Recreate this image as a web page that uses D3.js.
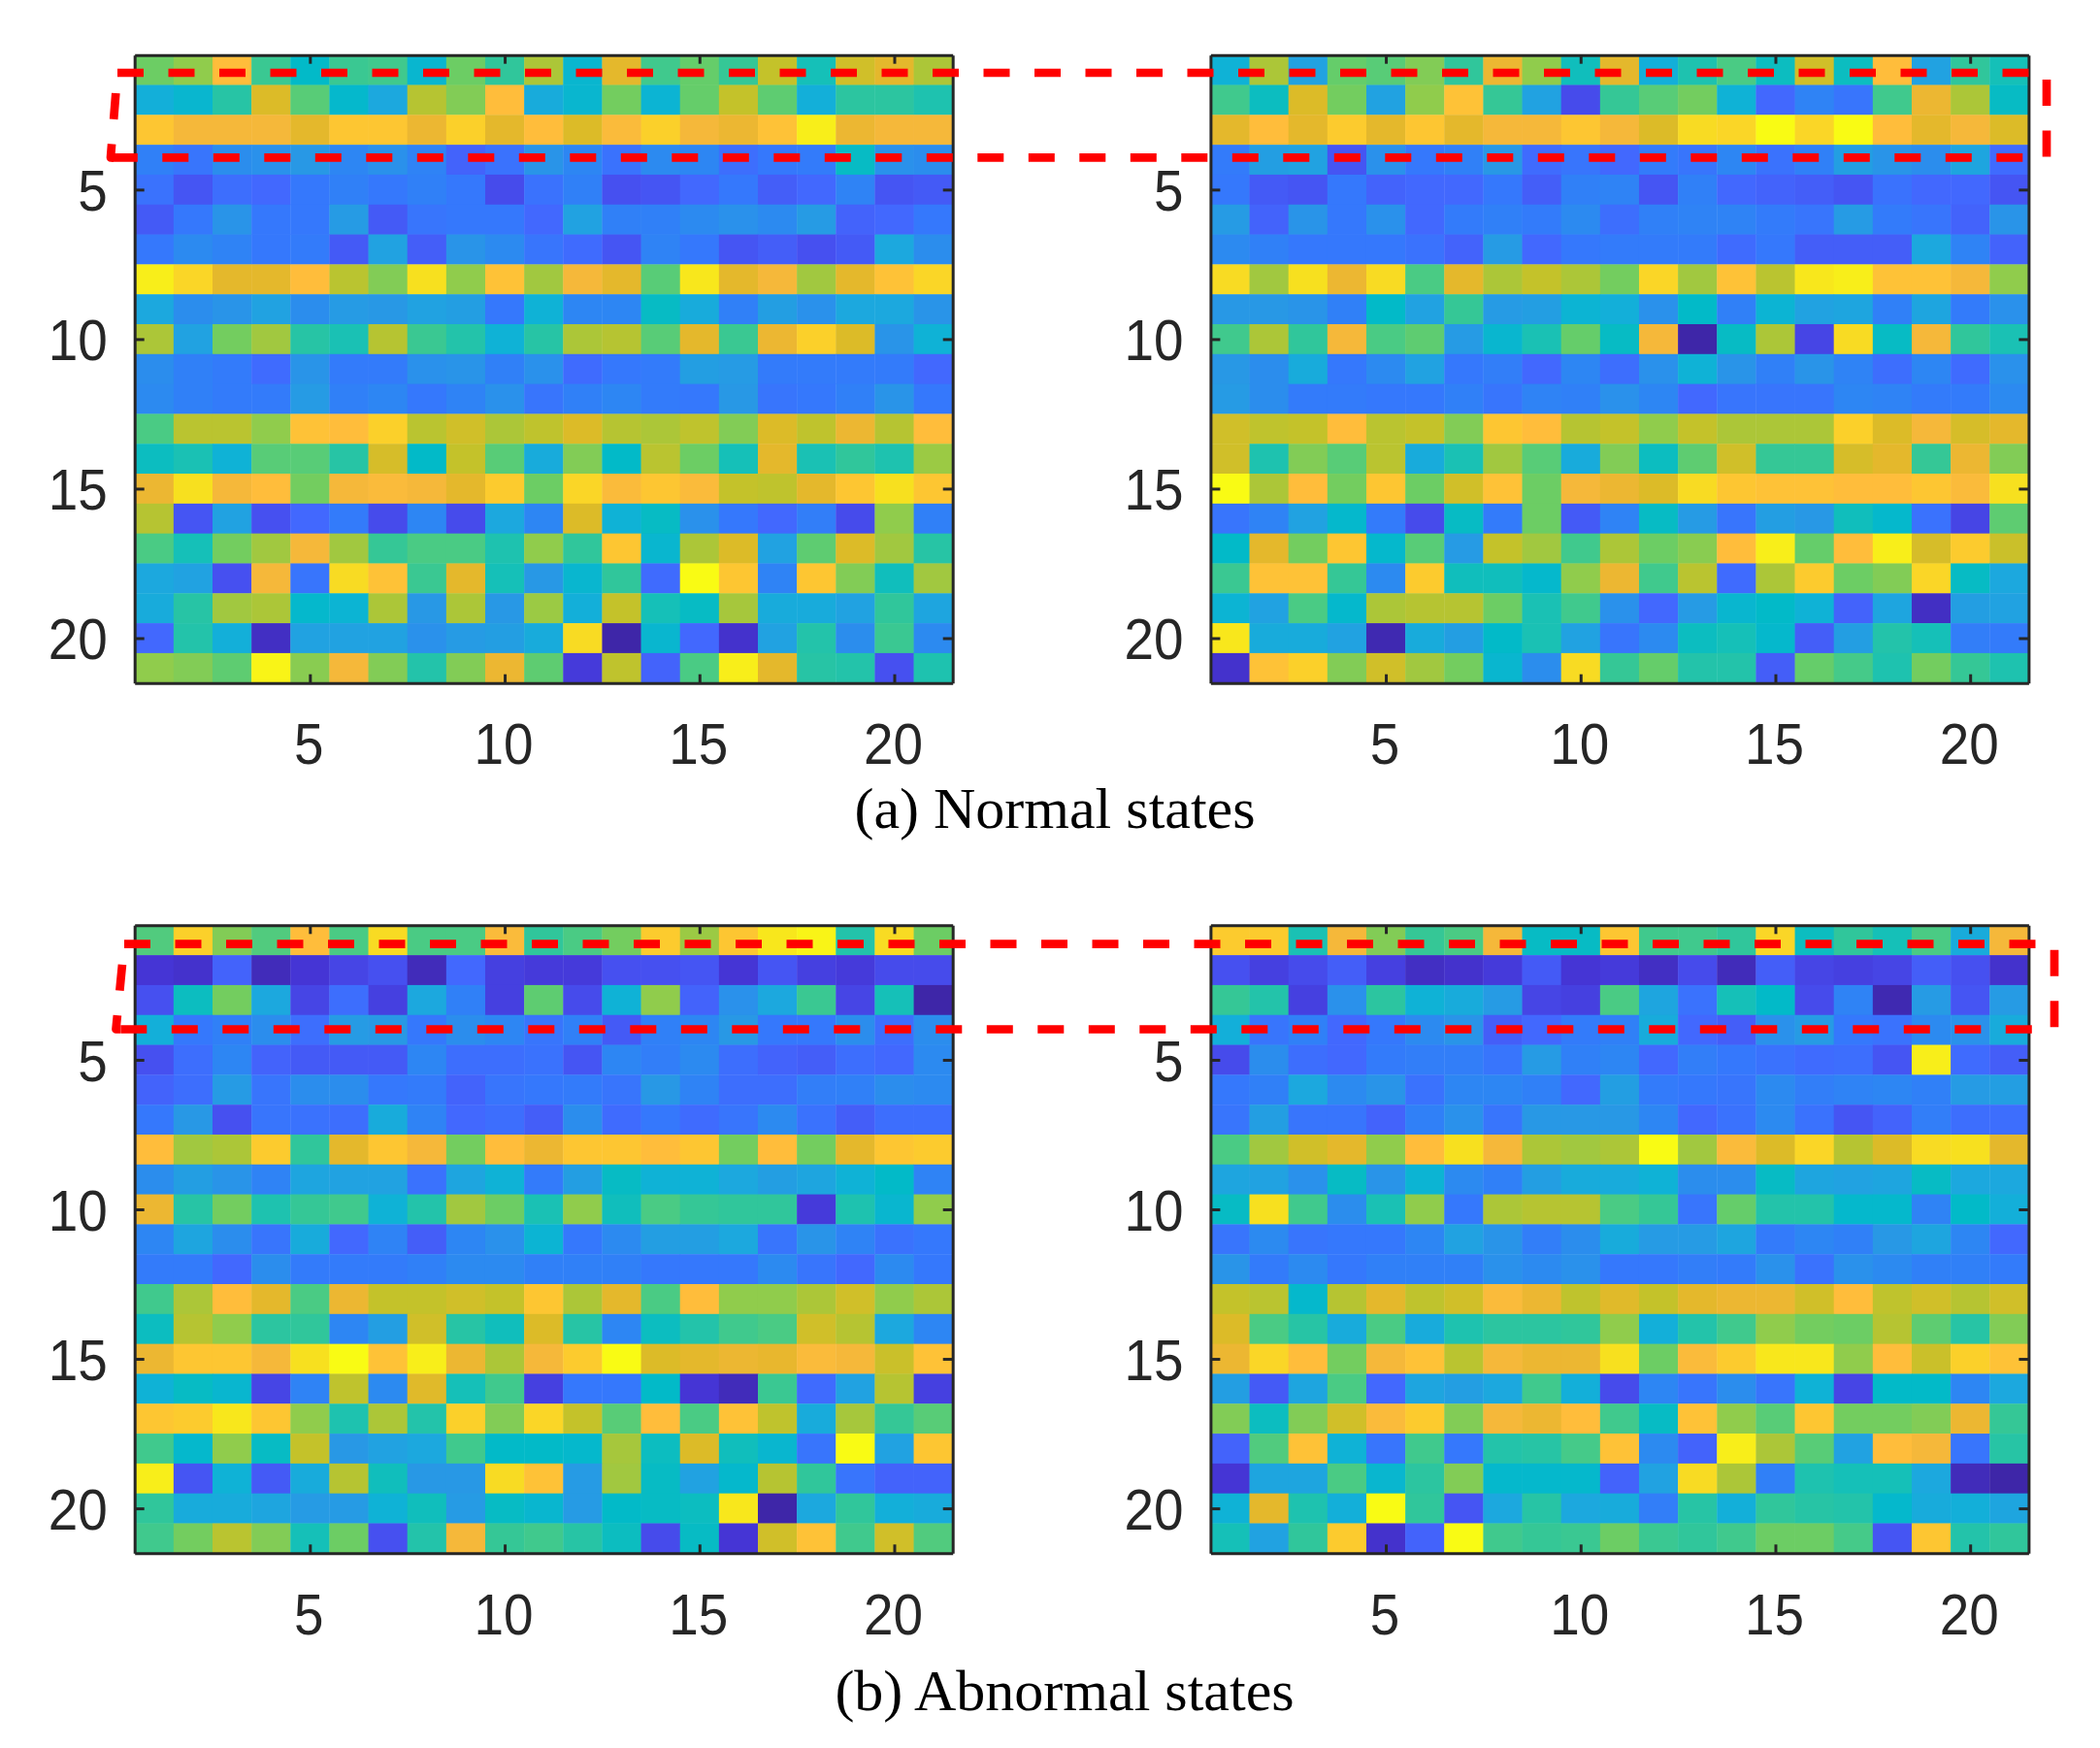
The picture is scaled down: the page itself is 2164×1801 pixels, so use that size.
<!DOCTYPE html>
<html>
<head>
<meta charset="utf-8">
<title>Normal and abnormal states</title>
<script src="https://cdn.jsdelivr.net/npm/d3@7/dist/d3.min.js"></script>
<style>
	html, body { margin: 0; padding: 0; background: #fff; }
	svg { display: block; }
	.axis path, .axis line { stroke: #262626; stroke-width: 3px; }
	.axis text { font-family: "Liberation Sans", Arial, sans-serif; font-size: 59px; fill: #262626; }
	.caption { font-family: "Liberation Serif", "Times New Roman", serif; font-size: 60px; fill: #000; text-anchor: middle; }
	.box { fill: none; stroke: #ff0000; stroke-width: 8.7px; stroke-linejoin: round; }
</style>
</head>
<body>
<svg id="chart" width="2164" height="1801"></svg>
<script>
var categories = d3.range(1, 22);
var tickValues = [5, 10, 15, 20];
var captions = ['(a) Normal states', '(b) Abnormal states'];

var colorStops = [0, 5, 10, 15, 20, 25, 30, 35, 38, 42, 47, 52, 57, 62, 67, 72, 77, 81, 84, 87, 89, 92, 96, 100];
var colorValues = ['#3e26a8', '#4535d5', '#4650f0', '#4268fe', '#3578fc', '#2d86f3', '#2898e5', '#1ca8de', '#0fb2d6', '#02bac8', '#1ac1b4', '#30c69b', '#4acb84', '#6ccd64', '#90cc4c', '#acc638', '#c4c22a', '#dcbb28', '#e8b72e', '#f5b83a', '#ffbd3b', '#fccb2e', '#f7e01f', '#f9fb14'];

var normalLeft = [
	[62,67,89,54,42,54,55,40,62,52,72,40,83,55,61,53,77,46,79,83,72],
	[37,40,50,81,59,41,35,74,65,89,36,40,63,39,61,77,60,37,51,51,48],
	[91,87,87,87,83,91,91,85,93,83,89,81,88,93,87,85,90,98,85,87,87],
	[23,19,27,28,30,25,28,24,14,18,29,25,18,26,25,17,20,21,43,28,27],
	[18,11,17,15,20,23,20,23,20,9,18,23,10,11,15,20,13,15,24,11,12],
	[12,20,29,20,20,31,12,19,20,20,15,33,23,23,26,28,26,31,14,15,20],
	[20,26,24,20,21,12,33,13,29,26,19,16,11,24,20,11,13,10,12,35,27],
	[98,94,83,83,89,75,65,96,67,90,70,87,83,59,97,83,87,70,83,90,94],
	[35,27,29,33,27,31,30,33,32,20,38,25,25,43,36,23,32,28,35,35,29],
	[72,33,63,70,50,47,74,54,49,38,50,72,74,59,83,54,85,93,81,29,38],
	[27,23,21,16,29,21,21,28,29,23,28,16,20,21,32,31,21,21,21,21,15],
	[26,23,21,21,31,23,25,20,24,28,19,23,25,21,20,30,19,20,23,29,20],
	[57,75,75,67,90,89,93,75,79,72,76,81,74,72,76,65,81,76,85,74,89],
	[44,47,38,59,59,50,80,42,77,59,36,65,42,75,62,46,83,47,52,48,69],
	[85,96,87,89,63,87,88,87,83,92,62,94,88,91,88,77,76,83,91,96,91],
	[74,11,33,10,15,21,9,25,9,35,25,81,38,43,28,20,15,22,9,67,23],
	[57,46,63,70,87,70,53,57,57,48,67,52,91,40,72,81,33,60,81,70,50],
	[35,33,10,87,19,95,90,54,83,46,30,40,52,16,100,91,24,91,65,45,70],
	[36,50,70,72,41,39,72,30,72,30,69,37,77,46,43,71,36,36,33,52,34],
	[15,49,37,3,33,33,33,28,31,32,36,95,0,40,15,4,33,49,27,54,26],
	[67,65,60,99,66,87,65,49,65,85,60,6,76,14,57,98,83,50,49,10,48]
];

var normalRight = [
	[38,72,33,61,59,65,52,85,67,45,83,37,48,57,44,79,44,89,33,52,46],
	[55,44,81,63,33,67,90,53,33,9,53,59,63,38,15,24,19,55,85,72,43],
	[83,89,83,92,83,91,83,87,87,91,87,81,95,94,100,94,100,89,83,87,81],
	[21,32,33,11,28,20,23,30,16,19,15,21,19,25,18,23,32,29,27,34,16],
	[20,12,11,20,14,15,15,20,13,23,24,11,23,15,14,13,11,18,15,15,11],
	[31,14,29,20,28,15,21,23,21,26,17,23,24,24,21,19,31,21,19,14,29],
	[26,23,20,20,20,18,14,31,15,20,21,21,21,16,20,13,13,13,35,24,14],
	[95,70,96,85,95,57,83,72,77,72,63,94,70,90,75,97,98,90,90,87,67],
	[30,30,29,23,42,33,53,31,32,39,37,28,42,23,39,33,34,23,34,21,28],
	[55,72,52,87,57,60,31,40,47,61,43,87,0,43,72,8,95,43,87,52,47],
	[30,27,36,20,26,33,20,22,15,25,17,28,38,29,23,29,24,17,25,16,28],
	[31,27,21,21,20,20,23,19,24,23,28,25,15,19,19,19,25,24,21,21,26],
	[79,76,77,89,75,77,65,91,89,74,77,67,77,72,72,72,93,81,87,80,83],
	[79,48,65,59,75,36,47,70,59,36,65,44,60,79,53,53,80,83,53,85,65],
	[100,72,89,63,91,62,79,90,62,87,85,81,95,91,90,90,89,89,91,88,96],
	[19,24,33,41,21,9,43,21,62,12,24,43,31,19,32,30,45,41,18,8,60],
	[42,83,63,91,41,59,31,77,70,55,72,62,66,89,98,61,89,98,80,92,78],
	[54,90,90,53,26,92,45,45,41,67,85,55,75,16,72,92,62,65,94,43,35],
	[39,33,57,41,72,74,74,62,47,55,28,15,31,40,42,38,14,34,3,32,33],
	[97,36,36,33,1,36,32,42,47,33,19,26,44,46,41,13,32,49,46,22,21],
	[4,90,93,65,79,70,63,40,27,95,53,61,49,49,13,61,56,48,63,53,48]
];

var abnormalLeft = [
	[58,93,65,58,89,57,95,57,57,88,52,57,63,92,69,91,97,99,49,95,62],
	[5,4,14,2,5,8,10,2,15,7,6,6,10,10,11,5,11,7,6,9,9],
	[10,44,63,35,8,17,7,35,23,7,60,9,38,67,14,28,35,54,8,46,0],
	[37,20,23,27,17,31,30,20,27,25,19,23,12,23,25,30,20,20,27,17,27],
	[10,17,25,14,12,12,12,25,17,17,18,11,25,22,26,17,14,13,17,15,26],
	[14,17,31,19,27,27,20,21,14,19,20,21,19,30,24,17,17,22,23,27,26],
	[20,30,10,19,18,17,36,24,15,17,13,27,16,20,16,19,26,18,13,17,17],
	[89,70,72,92,52,83,91,87,63,89,85,91,91,89,91,63,89,63,83,91,92],
	[27,32,29,24,34,33,33,18,34,38,21,32,43,38,38,35,32,34,38,42,24],
	[85,50,63,48,53,55,38,49,70,62,47,67,45,57,53,52,52,6,48,40,67],
	[25,34,27,19,36,15,24,13,25,28,39,20,26,32,32,35,19,29,24,18,20],
	[21,21,15,27,21,21,21,23,26,26,23,23,23,20,20,20,26,19,15,26,20],
	[55,72,89,83,57,85,77,77,79,77,91,72,83,57,89,67,67,72,79,67,72],
	[44,74,67,51,52,25,32,79,50,45,81,50,25,44,49,55,57,79,74,35,25],
	[85,91,91,87,96,100,90,98,85,72,87,92,100,81,83,85,84,88,87,78,90],
	[38,43,40,8,24,76,26,82,46,55,7,20,20,42,5,2,54,16,33,74,7],
	[91,92,97,91,67,48,72,49,93,65,94,77,59,89,57,90,76,36,71,53,59],
	[55,41,67,43,77,30,33,35,55,42,42,41,71,44,81,45,40,19,100,33,91],
	[98,11,38,12,36,74,45,30,30,95,90,31,70,43,33,41,74,52,19,14,14],
	[52,36,36,34,31,31,38,45,31,43,40,31,42,43,44,97,0,35,52,37,36],
	[55,63,75,65,46,62,10,49,87,53,55,50,44,9,43,5,79,90,55,79,58]
];

var abnormalRight = [
	[92,92,47,87,65,53,57,87,43,43,91,55,55,52,94,44,52,46,57,36,87],
	[10,7,9,13,7,3,4,6,12,5,6,3,9,2,13,8,7,8,13,10,4],
	[53,49,7,28,51,38,36,31,8,7,57,34,18,46,42,9,24,1,31,11,31],
	[37,19,23,15,20,26,29,13,15,21,23,36,15,13,28,31,20,18,26,28,36],
	[9,27,17,15,21,22,22,19,31,23,25,15,22,20,18,16,17,11,98,16,13],
	[20,23,35,26,29,18,25,25,23,15,32,21,20,19,26,22,24,25,23,31,32],
	[19,32,19,19,14,23,28,19,30,30,30,25,15,18,26,18,11,14,22,17,17],
	[57,70,79,83,67,89,96,87,72,70,72,100,70,88,81,94,74,81,95,96,83],
	[34,33,28,43,29,39,26,23,32,36,36,38,27,27,43,34,33,34,43,35,35],
	[43,96,55,27,47,67,20,72,74,74,57,53,19,61,49,49,41,41,24,42,37],
	[19,26,19,20,20,25,33,29,22,27,36,31,31,34,21,25,23,30,34,25,15],
	[29,21,26,20,23,23,23,28,26,28,20,20,22,21,28,18,28,26,23,23,21],
	[77,75,41,74,83,76,79,88,85,76,82,77,83,85,85,79,89,76,79,74,79],
	[81,57,50,36,57,36,48,51,51,52,67,37,49,55,67,63,62,74,60,50,65],
	[85,94,89,63,87,90,75,87,85,85,96,62,88,92,97,97,67,89,78,93,90],
	[32,12,34,57,15,34,32,35,55,37,9,25,19,27,19,38,8,42,42,25,35],
	[65,44,65,79,88,92,65,87,85,89,55,43,90,67,59,91,63,63,65,85,53],
	[14,58,90,38,19,55,20,49,50,56,90,26,14,98,72,59,33,89,87,19,50],
	[5,34,34,57,40,51,65,41,41,41,14,33,95,72,23,48,46,46,35,2,0],
	[38,83,48,37,100,52,11,35,50,35,36,22,50,37,52,50,49,41,36,37,34],
	[46,33,52,92,4,14,100,55,53,54,62,54,52,55,62,62,56,11,91,49,52]
];

var width = 2164,
	height = 1801,
	panelW = 843,
	panelH = 647,
	svg = d3.select('#chart'),
	color = d3.scaleLinear().domain(colorStops).range(colorValues).clamp(true);

var x = d3.scaleLinear().domain([0.5, 21.5]).range([0, panelW]),
	y = d3.scaleLinear().domain([0.5, 21.5]).range([0, panelH]);

drawPanel(normalLeft, 138.7, 56.7);
drawPanel(normalRight, 1247.4, 56.7);
drawPanel(abnormalLeft, 138.7, 953.3);
drawPanel(abnormalRight, 1247.4, 953.3);

svg.append('text').attr('class', 'caption').attr('x', 1087).attr('y', 853).text(captions[0]);
svg.append('text').attr('class', 'caption').attr('x', 1097).attr('y', 1762).text(captions[1]);

// dashed boxes: three sides run as one path, the left side was drawn on its own
drawBox([[121, 75], [2109, 75], [2109, 162.3], [114, 162.3]], '27 25.5');
drawBox([[117, 162.3], [114, 162.3], [121, 75]], '17 25.5 27 200');
drawBox([[128, 972.7], [2117, 972.7], [2117, 1060.5], [119.5, 1060.5]], '27 25.5');
drawBox([[124, 1060.5], [119.5, 1060.5], [128, 972.7]], '19 25.5 27 200');

function drawPanel(values, left, top) {
	var g = svg.append('g').attr('transform', 'translate(' + left + ',' + top + ')');

	var rows = g.append('g').selectAll('g')
		.data(values)
		.enter().append('g');

	rows.selectAll('rect')
		.data(function(row, r) {
			return row.map(function(v, c) {
				return {row: categories[r], col: categories[c], value: v};
			});
		})
		.enter().append('rect')
		.attr('x', function(d) { return x(d.col - 0.5); })
		.attr('y', function(d) { return y(d.row - 0.5); })
		.attr('width', x(1.5) - x(0.5) + 0.4)
		.attr('height', y(1.5) - y(0.5) + 0.4)
		.attr('fill', function(d) { return color(d.value); });

	var bottom = g.append('g').attr('class', 'axis')
		.attr('transform', 'translate(0,' + panelH + ')')
		.call(d3.axisBottom(x).tickValues(tickValues).tickSizeInner(-9).tickSizeOuter(0));
	bottom.selectAll('text').attr('x', -1.5).attr('y', 83.5).attr('dy', 0);

	var leftAxis = g.append('g').attr('class', 'axis')
		.call(d3.axisLeft(y).tickValues(tickValues).tickSizeInner(-10).tickSizeOuter(0));
	leftAxis.selectAll('text').attr('x', -28).attr('y', 2.5);

	// the tick digits in the picture are a little narrower than the font
	g.selectAll('.axis text')
		.attr('textLength', function() { return this.textContent.length * 30.5; })
		.attr('lengthAdjust', 'spacingAndGlyphs');

	g.append('g').attr('class', 'axis')
		.call(d3.axisTop(x).tickValues(tickValues).tickSizeInner(-9).tickSizeOuter(0).tickFormat(''));

	g.append('g').attr('class', 'axis')
		.attr('transform', 'translate(' + panelW + ',0)')
		.call(d3.axisRight(y).tickValues(tickValues).tickSizeInner(-10).tickSizeOuter(0).tickFormat(''));

	g.selectAll('.axis').attr('fill', 'none');
}

function drawBox(points, dashes) {
	svg.append('path')
		.attr('class', 'box')
		.attr('stroke-dasharray', dashes)
		.attr('d', d3.line()(points));
}
</script>
</body>
</html>
